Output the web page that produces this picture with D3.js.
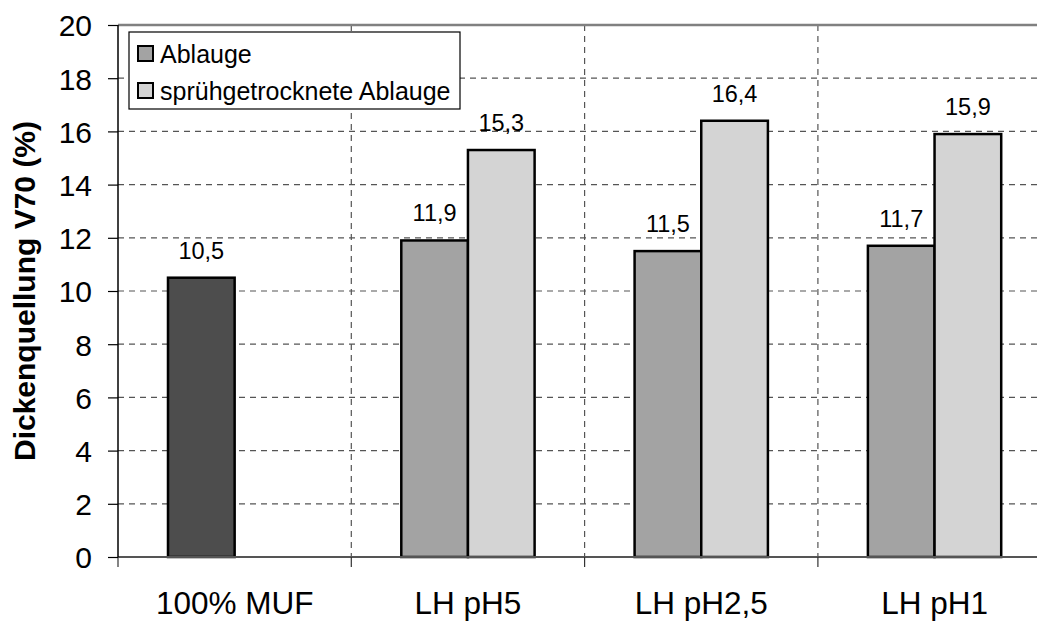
<!DOCTYPE html>
<html>
<head>
<meta charset="utf-8">
<script src="https://cdn.jsdelivr.net/npm/d3@7"></script>
<style>
  html, body { margin: 0; padding: 0; background: #fff; overflow: hidden; }
  svg { display: block; font-family: Arial, "Liberation Sans", sans-serif; }
</style>
</head>
<body>
<svg id="chart" width="1037" height="621"></svg>
<script>
// Categories and the two series (values in %)
const categories = ["100% MUF", "LH pH5", "LH pH2,5", "LH pH1"];
const seriesNames = ["Ablauge", "sprühgetrocknete Ablauge"];
const ablauge = [10.5, 11.9, 11.5, 11.7];
const spruehgetrocknet = [null, 15.3, 16.4, 15.9];
const yTicks = [0, 2, 4, 6, 8, 10, 12, 14, 16, 18, 20];
const yTitle = "Dickenquellung V70 (%)";

const seriesColors = ["#a3a3a3", "#d4d4d4"];
const referenceColor = "#4d4d4d"; // the MUF reference bar

const svg = d3.select("#chart");
const plotLeft = 118, plotTop = 25, plotBottom = 557;
const catWidth = 233.3;
const plotRight = plotLeft + catWidth * categories.length;

const x = d3.scaleBand().domain(categories).range([plotLeft, plotRight]).padding(0);
const y = d3.scaleLinear().domain([0, 20]).range([plotBottom, plotTop]);

// Horizontal dashed gridlines
svg.append("g").selectAll("line").data(yTicks.filter(t => t > 0 && t < 20)).join("line")
  .attr("x1", plotLeft).attr("x2", plotRight)
  .attr("y1", d => y(d)).attr("y2", d => y(d))
  .attr("stroke", "#555").attr("stroke-width", 1.2).attr("stroke-dasharray", "6,5");

// Vertical dashed gridlines at category boundaries
svg.append("g").selectAll("line").data(categories.slice(1)).join("line")
  .attr("x1", d => x(d)).attr("x2", d => x(d))
  .attr("y1", plotTop).attr("y2", plotBottom)
  .attr("stroke", "#555").attr("stroke-width", 1.2).attr("stroke-dasharray", "6,5");

// Top border of the plot area
svg.append("line").attr("x1", plotLeft).attr("x2", plotRight).attr("y1", plotTop).attr("y2", plotTop)
  .attr("stroke", "#808080").attr("stroke-width", 2.5);

// Bars
const barW = catWidth * 2 / 7;
const rows = [];
categories.forEach((c, i) => {
  [ablauge[i], spruehgetrocknet[i]].forEach((v, s) => {
    if (v == null) return;
    rows.push({ c, s, v, fill: (i === 0 ? referenceColor : seriesColors[s]) });
  });
});
const center = c => x(c) + x.bandwidth() / 2;
const barX = d => center(d.c) + (d.s === 0 ? -barW : 0);

svg.append("g").selectAll("rect").data(rows).join("rect")
  .attr("x", barX).attr("width", barW)
  .attr("y", d => y(d.v)).attr("height", d => y(0) - y(d.v))
  .attr("fill", d => d.fill).attr("stroke", "#000").attr("stroke-width", 2.5);

// Value labels
svg.append("g").selectAll("text").data(rows).join("text")
  .attr("x", d => barX(d) + barW / 2).attr("y", d => y(d.v) - 19)
  .attr("text-anchor", "middle").attr("font-size", 23.5).attr("fill", "#000")
  .text(d => String(d.v).replace(".", ","));

// X axis line and category ticks
svg.append("line").attr("x1", plotLeft).attr("x2", plotRight).attr("y1", plotBottom).attr("y2", plotBottom)
  .attr("stroke", "#555").attr("stroke-width", 2);
svg.append("g").selectAll("line").data(d3.range(categories.length + 1)).join("line")
  .attr("x1", i => plotLeft + i * catWidth).attr("x2", i => plotLeft + i * catWidth)
  .attr("y1", plotBottom).attr("y2", plotBottom + 10)
  .attr("stroke", "#333").attr("stroke-width", 1.2);
svg.append("g").selectAll("text").data(categories).join("text")
  .attr("x", d => center(d)).attr("y", 614)
  .attr("text-anchor", "middle").attr("font-size", 31.5).attr("fill", "#000")
  .text(d => d);

// Y axis
const yAxis = d3.axisLeft(y).tickValues(yTicks).tickSize(10).tickPadding(16).tickFormat(d3.format("d"));
const gy = svg.append("g").attr("transform", `translate(${plotLeft},0)`).call(yAxis);
gy.select(".domain").attr("stroke", "#000").attr("stroke-width", 1.5).attr("d", `M0,${plotTop}V${plotBottom}`);
gy.selectAll(".tick line").attr("stroke", "#000").attr("stroke-width", 1.2);
gy.selectAll(".tick text").attr("font-size", 30).attr("fill", "#000")
  .attr("font-family", "Arial, 'Liberation Sans', sans-serif").attr("dy", "0.36em");

// Y title
svg.append("text")
  .attr("transform", `translate(35,${(plotTop + plotBottom) / 2}) rotate(-90)`)
  .attr("text-anchor", "middle").attr("font-size", 30).attr("font-weight", "bold").attr("fill", "#000")
  .text(yTitle);

// Legend
const lg = svg.append("g");
lg.append("rect").attr("x", 129).attr("y", 32).attr("width", 331).attr("height", 77)
  .attr("fill", "#fff").attr("stroke", "#000").attr("stroke-width", 1.2);
seriesNames.forEach((name, i) => {
  const cy = 54 + i * 37;
  lg.append("rect").attr("x", 138).attr("y", cy - 8).attr("width", 15).attr("height", 15)
    .attr("fill", seriesColors[i]).attr("stroke", "#000").attr("stroke-width", 2);
  lg.append("text").attr("x", 160).attr("y", cy + 8.5).attr("font-size", 25).attr("fill", "#000").text(name);
});
</script>
</body>
</html>
